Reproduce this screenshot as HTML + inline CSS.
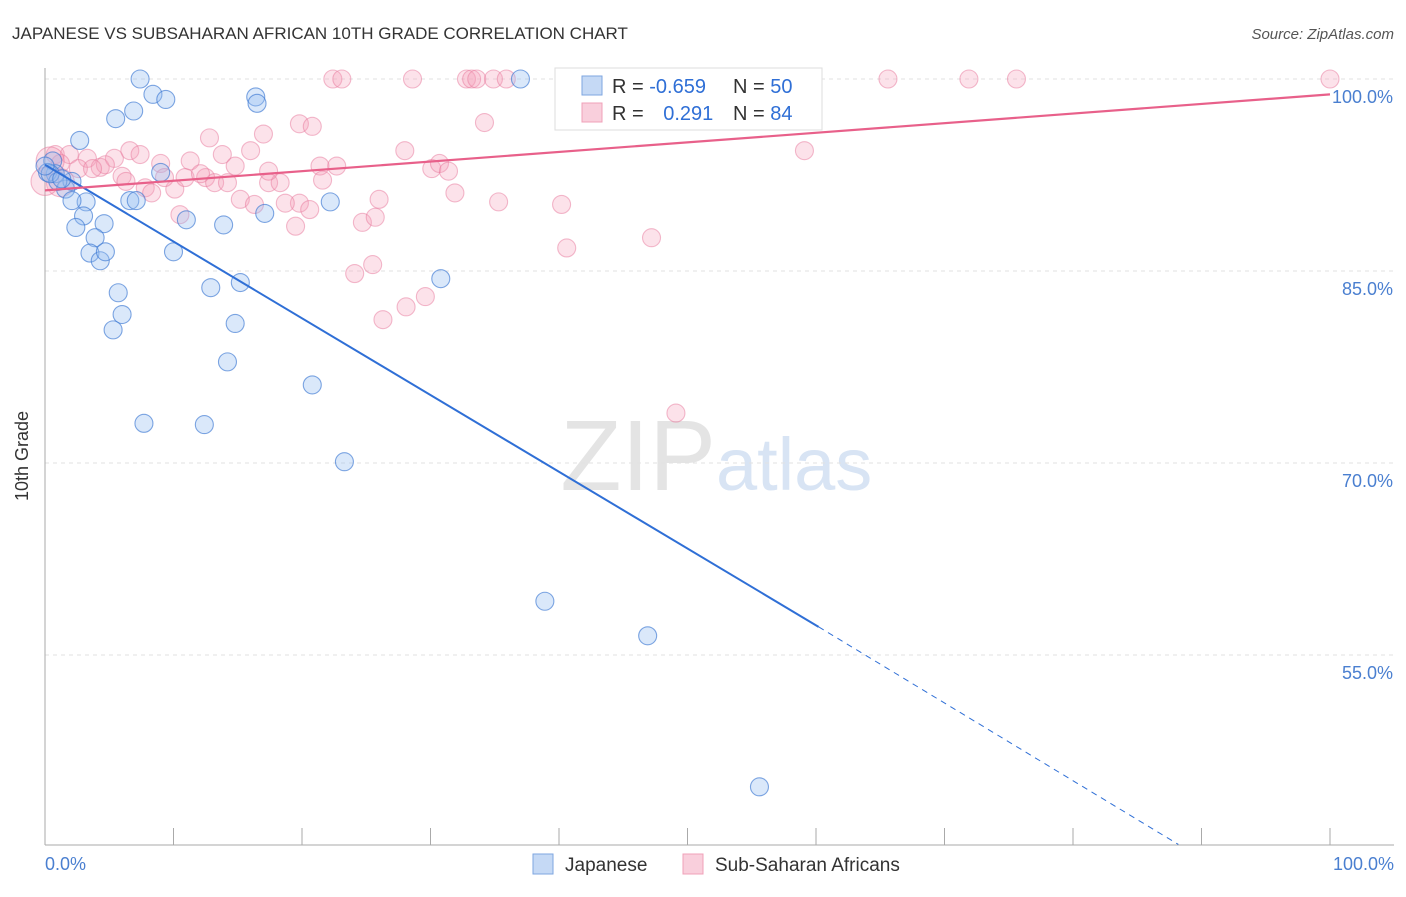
<!DOCTYPE html>
<html><head><meta charset="utf-8"><style>
body{margin:0;background:#fff;font-family:"Liberation Sans",sans-serif;}
svg text{font-family:"Liberation Sans",sans-serif;}
</style></head><body>
<svg width="1406" height="892" xmlns="http://www.w3.org/2000/svg">
<text x="12" y="39" font-size="17" fill="#333">JAPANESE VS SUBSAHARAN AFRICAN 10TH GRADE CORRELATION CHART</text>
<text x="1394" y="39" font-size="15" fill="#555" font-style="italic" text-anchor="end">Source: ZipAtlas.com</text>
<text x="716" y="490" font-size="100" fill="#e4e4e4" text-anchor="end" font-family="Liberation Serif">ZIP</text>
<text x="716" y="490" font-size="74" fill="#d8e4f4">atlas</text>
<g id="grid"></g>
<line x1="45" y1="68" x2="45" y2="845" stroke="#aaa"/>
<line x1="45" y1="845" x2="1394" y2="845" stroke="#aaa"/>
<g id="xticks"></g>
<text x="28" y="456" font-size="18" fill="#333" transform="rotate(-90 28 456)" text-anchor="middle">10th Grade</text>
<text x="45" y="870" font-size="18" fill="#4a7fd0">0.0%</text>
<text x="1394" y="870" font-size="18" fill="#4a7fd0" text-anchor="end">100.0%</text>
<g id="pts"></g>
<g id="lines"></g>
<g>
<rect x="555" y="68" width="267" height="62" fill="#fff" stroke="#ddd"/>
<rect x="582" y="76" width="20" height="19" fill="#c5d9f5" stroke="#7ea6e0"/>
<rect x="582" y="103" width="20" height="19" fill="#f9cfdc" stroke="#f0a0b8"/>
<text x="612" y="93" font-size="20" fill="#333">R = <tspan fill="#2f6fd6">-0.659</tspan></text>
<text x="733" y="93" font-size="20" fill="#333">N = <tspan fill="#2f6fd6">50</tspan></text>
<text x="612" y="120" font-size="20" fill="#333">R = <tspan fill="#2f6fd6" dx="14">0.291</tspan></text>
<text x="733" y="120" font-size="20" fill="#333">N = <tspan fill="#2f6fd6">84</tspan></text>
</g>
<g>
<rect x="533" y="854" width="20" height="20" fill="#c5d9f5" stroke="#7ea6e0"/>
<text x="565" y="871" font-size="19" fill="#333">Japanese</text>
<rect x="683" y="854" width="20" height="20" fill="#f9cfdc" stroke="#f0a0b8"/>
<text x="715" y="871" font-size="19" fill="#333">Sub-Saharan Africans</text>
</g>
</svg>
<script>
const yTicks=[100,85,70,55];
const xTickVals=[0,10,20,30,40,50,60,70,80,90,100];
const japX=[7.4,8.4,9.4,16.4,16.5,6.9,5.5,2.7,0.6,0.8,1.6,2.1,3.2,2.1,3.0,2.4,4.6,3.9,3.5,4.3,4.7,6.6,7.1,9.0,11.0,10.0,13.9,17.1,22.2,5.7,6.0,5.3,12.9,15.2,14.8,14.2,20.8,7.7,12.4,23.3,30.8,37.0,38.9,46.9,55.6,0.2,1.0,0.4,1.3,0.0];
const japY=[100,98.8,98.4,98.6,98.1,97.5,96.9,95.2,93.6,92.6,91.4,92.0,90.4,90.5,89.3,88.4,88.7,87.6,86.4,85.8,86.5,90.5,90.5,92.7,89.0,86.5,88.6,89.5,90.4,83.3,81.6,80.4,83.7,84.1,80.9,77.9,76.1,73.1,73.0,70.1,84.4,100,59.2,56.5,44.7,92.7,92.0,92.6,92.2,93.2];
const subX=[22.4,23.1,28.6,32.8,33.2,33.6,34.9,35.9,46.1,52.4,65.6,71.9,75.6,100,12.8,17.0,19.8,20.8,28.0,34.2,59.1,0.8,1.9,3.3,4.3,5.4,6.6,7.4,9.0,11.3,13.8,16.0,1.2,2.6,4.7,6.0,7.8,10.1,10.9,12.5,13.2,14.8,17.4,18.3,19.8,21.4,22.7,21.6,24.7,25.7,24.1,25.5,26.3,28.1,29.6,30.1,30.7,31.4,31.9,35.3,40.2,40.6,47.2,49.1,26.0,8.3,6.3,9.3,10.5,15.2,16.3,18.7,19.5,20.6,17.4,1.2,0.4,0.0,3.7,12.1,14.2];
const subY=[100,100,100,100,100,100,100,100,100,100,100,100,100,100,95.4,95.7,96.5,96.3,94.4,96.6,94.4,94.1,94.1,93.8,93.1,93.8,94.4,94.1,93.4,93.6,94.1,94.4,93.4,93.0,93.3,92.4,91.5,91.4,92.3,92.3,91.9,93.2,91.9,91.9,90.3,93.2,93.2,92.1,88.8,89.2,84.8,85.5,81.2,82.2,83.0,93.0,93.4,92.8,91.1,90.4,90.2,86.8,87.6,73.9,90.6,91.1,92.0,92.3,89.4,90.6,90.2,90.3,88.5,89.8,92.8,91.9,93.6,92.0,93.0,92.6,91.9];
const japTrend=[[0,93.3],[60.2,57.2]];
const japTrendExt=[[60.2,57.2],[88.2,40.2]];
const subTrend=[[0,91.3],[100,98.8]];
const X=v=>45+v*12.85, Y=v=>79+(100-v)*12.8;
const NS='http://www.w3.org/2000/svg';
function mk(t,a,p){const e=document.createElementNS(NS,t);for(const k in a)e.setAttribute(k,a[k]);document.getElementById(p).appendChild(e);return e;}
yTicks.forEach(t=>{
 const l=mk('line',{x1:45,x2:1394,y1:Y(t),y2:Y(t),stroke:'#e2e2e2','stroke-dasharray':'4,4'},'grid');
 
 
 const s=mk('text',{x:1393,y:Y(t)+24,'font-size':18,fill:'#4a7fd0','text-anchor':'end'},'grid');
 s.textContent=t.toFixed(1)+'%';
 
 
});
xTickVals.forEach(t=>{
 const l=mk('line',{x1:X(t),x2:X(t),y1:828,y2:845,stroke:'#aaa'},'xticks');
 
 
});
subX.forEach((v,i)=>{
 const c=mk('circle',{cx:X(v),cy:Y(subY[i]),r:i>=75&&i<=77?14:9,fill:'rgba(244,160,185,0.3)',stroke:'rgba(232,120,155,0.5)','stroke-width':1.1},'pts');
 
 
});
japX.forEach((v,i)=>{
 const c=mk('circle',{cx:X(v),cy:Y(japY[i]),r:9,fill:'rgba(150,190,240,0.35)',stroke:'rgba(60,120,210,0.65)','stroke-width':1.1},'pts');
 
 
});
let l=mk('line',{x1:X(japTrend[0][0]),y1:Y(japTrend[0][1]),x2:X(japTrend[1][0]),y2:Y(japTrend[1][1]),stroke:'#2f6fd6','stroke-width':2},'lines');


l=mk('line',{x1:X(japTrendExt[0][0]),y1:Y(japTrendExt[0][1]),x2:X(japTrendExt[1][0]),y2:Y(japTrendExt[1][1]),stroke:'#2f6fd6','stroke-width':1,'stroke-dasharray':'6,5'},'lines');


l=mk('line',{x1:X(subTrend[0][0]),y1:Y(subTrend[0][1]),x2:X(subTrend[1][0]),y2:Y(subTrend[1][1]),stroke:'#e8608a','stroke-width':2.2},'lines');


</script>
</body></html>
